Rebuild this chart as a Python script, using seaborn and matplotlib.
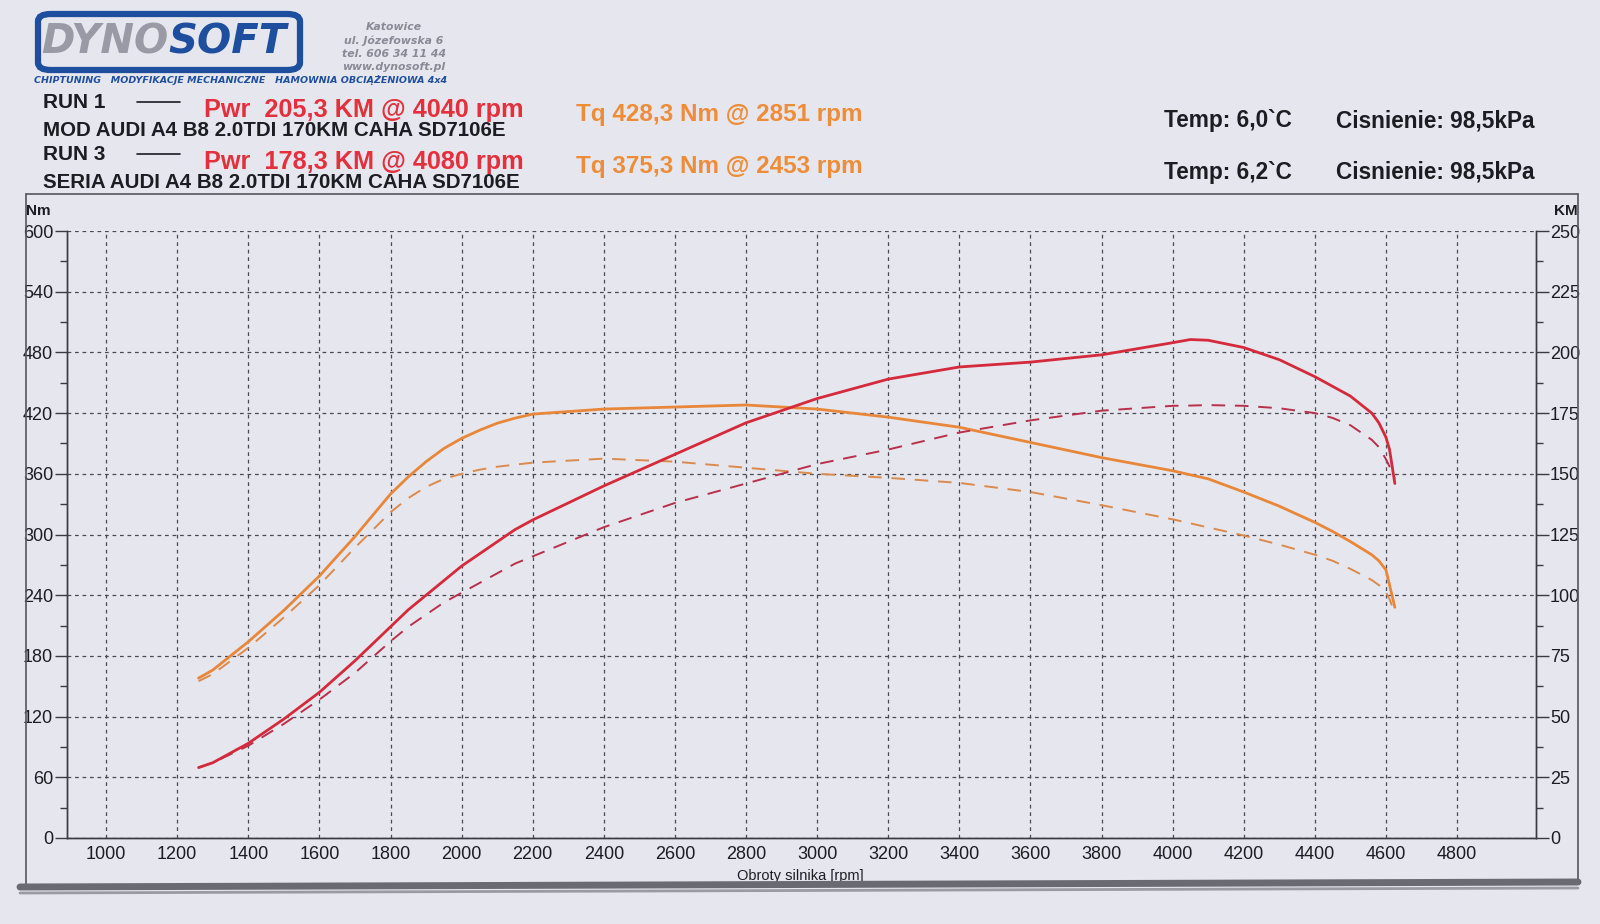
import matplotlib as mpl

mpl.use('Agg')
import matplotlib.pyplot as plt
from matplotlib.patches import FancyBboxPatch
from matplotlib.lines import Line2D
from matplotlib.ticker import MultipleLocator
import pandas as pd
import seaborn as sns

#### data ####
rpm = [1260, 1300, 1400, 1500, 1600, 1700, 1800,
       1850, 1900, 1950, 2000, 2050, 2100, 2150, 2200,
       2400, 2600, 2800, 3000, 3200, 3400, 3600, 3800, 4000,
       4050, 4100, 4200, 4300, 4400, 4450, 4500, 4560, 4580, 4600, 4610, 4625]

# RUN 1 - MOD (solid)
torque_run1 = [158, 166, 194, 225, 259, 298, 340,
               357, 372, 385, 395, 403, 410, 415, 419,
               424, 426, 428, 424, 416, 406, 391, 376, 363,
               359, 355, 342, 328, 312, 303, 293, 280, 274, 265, 250, 228]
power_run1 = [29, 31, 39, 49, 60, 73, 87,
              94, 100, 106, 112, 117, 122, 127, 131,
              145, 158, 171, 181, 189, 194, 196, 199, 204,
              205.3, 205, 202, 197, 190, 186, 182, 175, 171, 165, 160, 146]

# RUN 3 - SERIA (dashed)
torque_run3 = [155, 162, 188, 218, 250, 287, 322,
               336, 347, 355, 360, 364, 367, 369, 371,
               375, 372, 366, 360, 356, 351, 342, 329, 315,
               311, 307, 299, 290, 280, 274, 266, 255, 250, 243, 236, 222]
power_run3 = [29, 31, 38, 47, 57, 68, 81,
              87, 92, 97, 101, 105, 109, 113, 116,
              128, 138, 146, 154, 160, 167, 172, 176, 178,
              178.1, 178.3, 178, 177, 175, 173, 170, 164, 161, 156, 153, 148]

x_ticks = list(range(1000, 4801, 200))
nm_ticks = list(range(0, 601, 60))
km_ticks = list(range(0, 251, 25))

BG = '#e6e6ee'
RED = '#d42a3c'
RED_D = '#b8304a'
ORANGE = '#e8873a'
ORANGE_D = '#dc8a4c'
GRID = '#4a4a55'
INK = '#1c1c22'

sns.set_style('white', rc={'axes.facecolor': BG, 'figure.facecolor': BG})
plt.rcParams['font.family'] = ['Liberation Sans', 'DejaVu Sans']

W, H = 1600, 924


def fx(px):
    return px / W


def fy(py):
    return 1 - py / H


fig = plt.figure(figsize=(16, 9.24), dpi=100)
fig.patch.set_facecolor(BG)

ax = fig.add_axes([fx(67), fy(838), fx(1536) - fx(67), fy(231) - fy(838)])
ax2 = ax.twinx()
ax2.patch.set_visible(False)

df1 = pd.DataFrame({'rpm': rpm, 'Nm': torque_run1, 'KM': power_run1})
df3 = pd.DataFrame({'rpm': rpm, 'Nm': torque_run3, 'KM': power_run3})

sns.lineplot(data=df3, x='rpm', y='Nm', ax=ax, color=ORANGE_D, lw=1.4,
             linestyle=(0, (7, 5)), zorder=3)
sns.lineplot(data=df1, x='rpm', y='Nm', ax=ax, color=ORANGE, lw=2.0, zorder=4)
sns.lineplot(data=df3, x='rpm', y='KM', ax=ax2, color=RED_D, lw=1.4,
             linestyle=(0, (7, 5)), zorder=3)
sns.lineplot(data=df1, x='rpm', y='KM', ax=ax2, color=RED, lw=2.0, zorder=4)

ax.set_xlim(890, 5022)
ax.set_ylim(0, 600)
ax2.set_ylim(0, 250)

ax.set_xticks(x_ticks)
ax.set_xticklabels([str(v) for v in x_ticks])
ax.xaxis.set_minor_locator(MultipleLocator(50))
ax.set_yticks(nm_ticks)
ax.yaxis.set_minor_locator(MultipleLocator(30))
ax2.set_yticks(km_ticks)
ax2.yaxis.set_minor_locator(MultipleLocator(12.5))

ax.grid(True, which='major', color=GRID, lw=0.9, linestyle=(0, (3, 3)))
ax.set_axisbelow(True)
ax.set(xlabel='', ylabel='')
ax2.set(xlabel='', ylabel='')

for a in (ax, ax2):
    a.spines['top'].set_visible(False)
    for s in ('left', 'right', 'bottom'):
        a.spines[s].set_color('#3a3a44')
        a.spines[s].set_linewidth(1.0)

ax.tick_params(axis='x', which='major', direction='out', length=6, width=1,
               color='#3a3a44', labelsize=13, labelcolor=INK, pad=0)
ax.tick_params(axis='x', which='minor', direction='out', length=4, width=1,
               color='#3a3a44')
ax.tick_params(axis='y', which='major', direction='out', length=9, width=1,
               color='#3a3a44', labelsize=13, labelcolor=INK, pad=1)
ax.tick_params(axis='y', which='minor', direction='out', length=5, width=1,
               color='#3a3a44')
ax2.tick_params(axis='y', which='major', direction='out', length=9, width=1,
                color='#3a3a44', labelsize=13, labelcolor=INK, pad=1)
ax2.tick_params(axis='y', which='minor', direction='out', length=5, width=1,
                color='#3a3a44')

fig.text(fx(26), fy(211), 'Nm', fontsize=11, fontweight='bold', color=INK,
         ha='left', va='center')
fig.text(fx(1578), fy(211), 'KM', fontsize=11, fontweight='bold', color=INK,
         ha='right', va='center')
fig.text(fx(800), fy(876), 'Obroty silnika [rpm]', fontsize=10.5, color=INK,
         ha='center', va='center')

# frame of the printout
frame_col = '#55555e'
fig.add_artist(Line2D([fx(26), fx(1578)], [fy(194), fy(194)], color=frame_col,
                      lw=1.2, transform=fig.transFigure))
fig.add_artist(Line2D([fx(26), fx(26)], [fy(194), fy(886)], color=frame_col,
                      lw=1.2, transform=fig.transFigure))
fig.add_artist(Line2D([fx(1578), fx(1578)], [fy(194), fy(884)], color=frame_col,
                      lw=1.2, transform=fig.transFigure))
fig.add_artist(Line2D([fx(20), fx(1578)], [fy(887), fy(882)], color='#6a6a72',
                      lw=5, transform=fig.transFigure, zorder=5))
fig.add_artist(Line2D([fx(20), fx(1578)], [fy(893), fy(888)], color='#9a9aa2',
                      lw=2, transform=fig.transFigure, zorder=5))

# logo
fig.add_artist(FancyBboxPatch((fx(38), fy(70)), fx(300) - fx(38), fy(14) - fy(70),
                              boxstyle='round,pad=0,rounding_size=0.008',
                              fill=False, ec='#1d4f9e', lw=4.5,
                              transform=fig.transFigure))
fig.text(fx(168), fy(42), 'DYNO', fontsize=29, fontweight='bold',
         style='italic', color='#9a9aa6', ha='right', va='center',
         family=['DejaVu Sans'])
fig.text(fx(168), fy(42), 'SOFT', fontsize=29, fontweight='bold',
         style='italic', color='#1d4f9e', ha='left', va='center',
         family=['DejaVu Sans'])
fig.text(fx(34), fy(80), 'CHIPTUNING   MODYFIKACJE MECHANICZNE   '
         'HAMOWNIA OBCIĄŻENIOWA 4x4', fontsize=6.8, fontweight='bold',
         style='italic', color='#1d4f9e', ha='left', va='center',
         family=['DejaVu Sans'])
for i, line in enumerate(['Katowice', 'ul. Józefowska 6', 'tel. 606 34 11 44',
                          'www.dynosoft.pl']):
    fig.text(fx(394), fy(27 + 13.5 * i), line, fontsize=7.8, fontweight='bold',
             style='italic', color='#8a8a96', ha='center', va='center',
             family=['DejaVu Sans'])

# header
for run, pwr, tq, desc, yrow in [
        ('RUN 1', 'Pwr  205,3 KM @ 4040 rpm', 'Tq 428,3 Nm @ 2851 rpm',
         'MOD AUDI A4 B8 2.0TDI 170KM CAHA SD7106E', 102),
        ('RUN 3', 'Pwr  178,3 KM @ 4080 rpm', 'Tq 375,3 Nm @ 2453 rpm',
         'SERIA AUDI A4 B8 2.0TDI 170KM CAHA SD7106E', 154)]:
    fig.text(fx(43), fy(yrow), run, fontsize=15, fontweight='bold', color=INK,
             ha='left', va='center')
    fig.add_artist(Line2D([fx(137), fx(180)], [fy(yrow), fy(yrow)], color=INK,
                          lw=1.2, transform=fig.transFigure))
    fig.text(fx(204), fy(yrow + 8), pwr, fontsize=18.2, fontweight='bold',
             color='#e3303c', ha='left', va='center')
    fig.text(fx(576), fy(yrow + 13), tq, fontsize=17.5, fontweight='bold',
             color='#ee8d38', ha='left', va='center')
    fig.text(fx(43), fy(yrow + 29), desc, fontsize=14.8, fontweight='bold',
             color=INK, ha='left', va='center')

for temp, yrow in [('Temp: 6,0`C', 121), ('Temp: 6,2`C', 172)]:
    fig.text(fx(1164), fy(yrow), temp, fontsize=16.3, fontweight='bold',
             color=INK, ha='left', va='center')
    fig.text(fx(1336), fy(yrow), 'Cisnienie: 98,5kPa', fontsize=16.3,
             fontweight='bold', color=INK, ha='left', va='center')

plt.savefig('out.png', dpi=100, facecolor=BG)
